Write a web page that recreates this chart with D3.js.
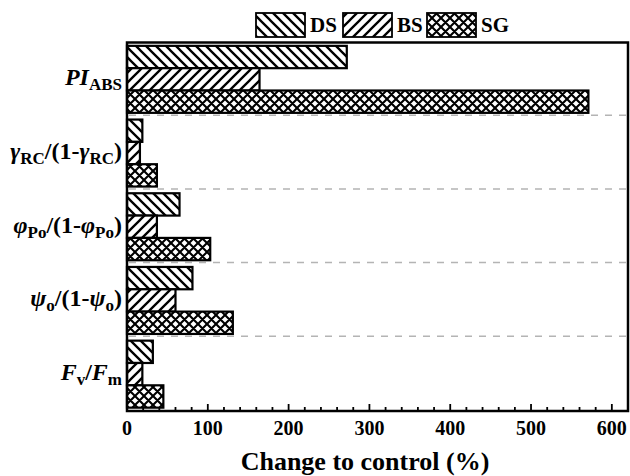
<!DOCTYPE html>
<meta charset="utf-8">
<head>
<style>
  body { margin: 0; background: #fff; }
  text { font-family: "Liberation Serif", "Times New Roman", serif; font-weight: bold; }
</style>
</head>
<body>
<div id="chart"></div>
<script src="https://d3js.org/d3.v7.min.js"></script>
<script>

var width = 630,
    height = 476;

// data
var groups = ['PI', 'gamma', 'phi', 'psi', 'FvFm'];
var series = ['DS', 'BS', 'SG'];
var DS = [272, 19, 65, 81, 32];
var BS = [164, 16, 37, 60, 19];
var SG = [571, 37, 103, 131, 45];
var xTicks = [0, 100, 200, 300, 400, 500, 600];

var values = {DS: DS, BS: BS, SG: SG};

var plotLeft = 127, plotRight = 628, plotTop = 42.5, plotBottom = 411;

var svg = d3.select("#chart").append("svg")
    .attr("width", width)
    .attr("height", height);

var x = d3.scaleLinear().domain([0, 620]).range([plotLeft, plotRight]);
var y = d3.scaleBand().domain(groups).range([plotTop, plotBottom]);
var ySub = d3.scaleBand().domain(series).range([0, y.bandwidth()]).paddingInner(0).paddingOuter(0.15);

// hatch patterns
var defs = svg.append("defs");
function hatch(id, size, paths, sw) {
  var p = defs.append("pattern")
      .attr("id", id)
      .attr("patternUnits", "userSpaceOnUse")
      .attr("width", size)
      .attr("height", size);
  p.append("rect").attr("width", size).attr("height", size).attr("fill", "#fff");
  p.append("path")
      .attr("d", paths)
      .attr("stroke", "#000")
      .attr("stroke-width", sw)
      .attr("fill", "none");
}
var w = 10;
hatch("DS", w, "M0,0 L" + w + "," + w + " M-2,"+(w-2)+" L2,"+(w+2)+" M"+(w-2)+",-2 L"+(w+2)+",2", 2.3);
hatch("BS", w, "M0," + w + " L" + w + ",0 M-2,2 L2,-2 M"+(w-2)+","+(w+2)+" L"+(w+2)+","+(w-2), 2.3);
var c = 9;
hatch("SG", c, "M0,0 L" + c + "," + c + " M-2,"+(c-2)+" L2,"+(c+2)+" M"+(c-2)+",-2 L"+(c+2)+",2" +
               " M0," + c + " L" + c + ",0 M-2,2 L2,-2 M"+(c-2)+","+(c+2)+" L"+(c+2)+","+(c-2), 2.1);

// dashed separators between groups
svg.selectAll(".sep")
  .data(groups.slice(1))
  .enter().append("line")
    .attr("x1", plotLeft + 2)
    .attr("x2", plotRight - 2)
    .attr("y1", function(d) { return y(d) - 1; })
    .attr("y2", function(d) { return y(d) - 1; })
    .attr("stroke", "#b4b4b4")
    .attr("stroke-width", 1.5)
    .attr("stroke-dasharray", "7,7");

// bars
series.forEach(function(s) {
  svg.selectAll(".bar-" + s)
    .data(groups)
    .enter().append("rect")
      .attr("x", x(0))
      .attr("y", function(d) { return y(d) + ySub(s); })
      .attr("width", function(d, i) { return x(values[s][i]) - x(0); })
      .attr("height", ySub.bandwidth())
      .attr("fill", "url(#" + s + ")")
      .attr("stroke", "#000")
      .attr("stroke-width", 2.2);
});

// frame
svg.append("rect")
    .attr("x", plotLeft)
    .attr("y", plotTop)
    .attr("width", plotRight - plotLeft)
    .attr("height", plotBottom - plotTop)
    .attr("fill", "none")
    .attr("stroke", "#000")
    .attr("stroke-width", 2.5);

// x axis ticks, inward
var minor = d3.range(0, 601, 20);
svg.selectAll(".tick")
  .data(minor)
  .enter().append("line")
    .attr("x1", function(d) { return x(d); })
    .attr("x2", function(d) { return x(d); })
    .attr("y1", plotBottom)
    .attr("y2", function(d) { return d % 100 === 0 ? plotBottom - 7 : plotBottom - 4; })
    .attr("stroke", "#000")
    .attr("stroke-width", 1.8);

svg.selectAll(".xlab")
  .data(xTicks)
  .enter().append("text")
    .attr("x", function(d) { return x(d); })
    .attr("y", 435)
    .attr("text-anchor", "middle")
    .attr("font-size", 20)
    .text(function(d) { return d; });

svg.append("text")
    .attr("x", 365)
    .attr("y", 470)
    .attr("text-anchor", "middle")
    .attr("font-size", 26)
    .text("Change to control (%)");

// y labels
var labelParts = {
  PI:    [["PI", "i"], ["ABS", "s"]],
  gamma: [["γ", "i"], ["RC", "s"], ["/(1-", "n"], ["γ", "i"], ["RC", "s"], [")", "n"]],
  phi:   [["φ", "i"], ["Po", "s"], ["/(1-", "n"], ["φ", "i"], ["Po", "s"], [")", "n"]],
  psi:   [["ψ", "i"], ["o", "s"], ["/(1-", "n"], ["ψ", "i"], ["o", "s"], [")", "n"]],
  FvFm:  [["F", "i"], ["v", "s"], ["/", "n"], ["F", "i"], ["m", "s"]]
};

groups.forEach(function(g) {
  var t = svg.append("text")
      .attr("x", 122)
      .attr("y", y(g) + y.bandwidth() / 2 + 6)
      .attr("text-anchor", "end")
      .attr("font-size", 24);
  var sub = false;
  labelParts[g].forEach(function(p) {
    var ts = t.append("tspan").text(p[0]);
    if (p[1] === "i") ts.attr("font-style", "italic");
    if (p[1] === "s") {
      ts.attr("font-size", 17).attr("dy", sub ? 0 : 5);
      sub = true;
    } else if (sub) {
      ts.attr("dy", -5);
      sub = false;
    }
  });
});

// legend
var legX = [256, 343, 427];
series.forEach(function(s, i) {
  svg.append("rect")
      .attr("x", legX[i])
      .attr("y", 13)
      .attr("width", 49)
      .attr("height", 24)
      .attr("fill", "url(#" + s + ")")
      .attr("stroke", "#000")
      .attr("stroke-width", 1.8);
  svg.append("text")
      .attr("x", legX[i] + 54)
      .attr("y", 32)
      .attr("font-size", 21)
      .text(s);
});

</script>
</body>
